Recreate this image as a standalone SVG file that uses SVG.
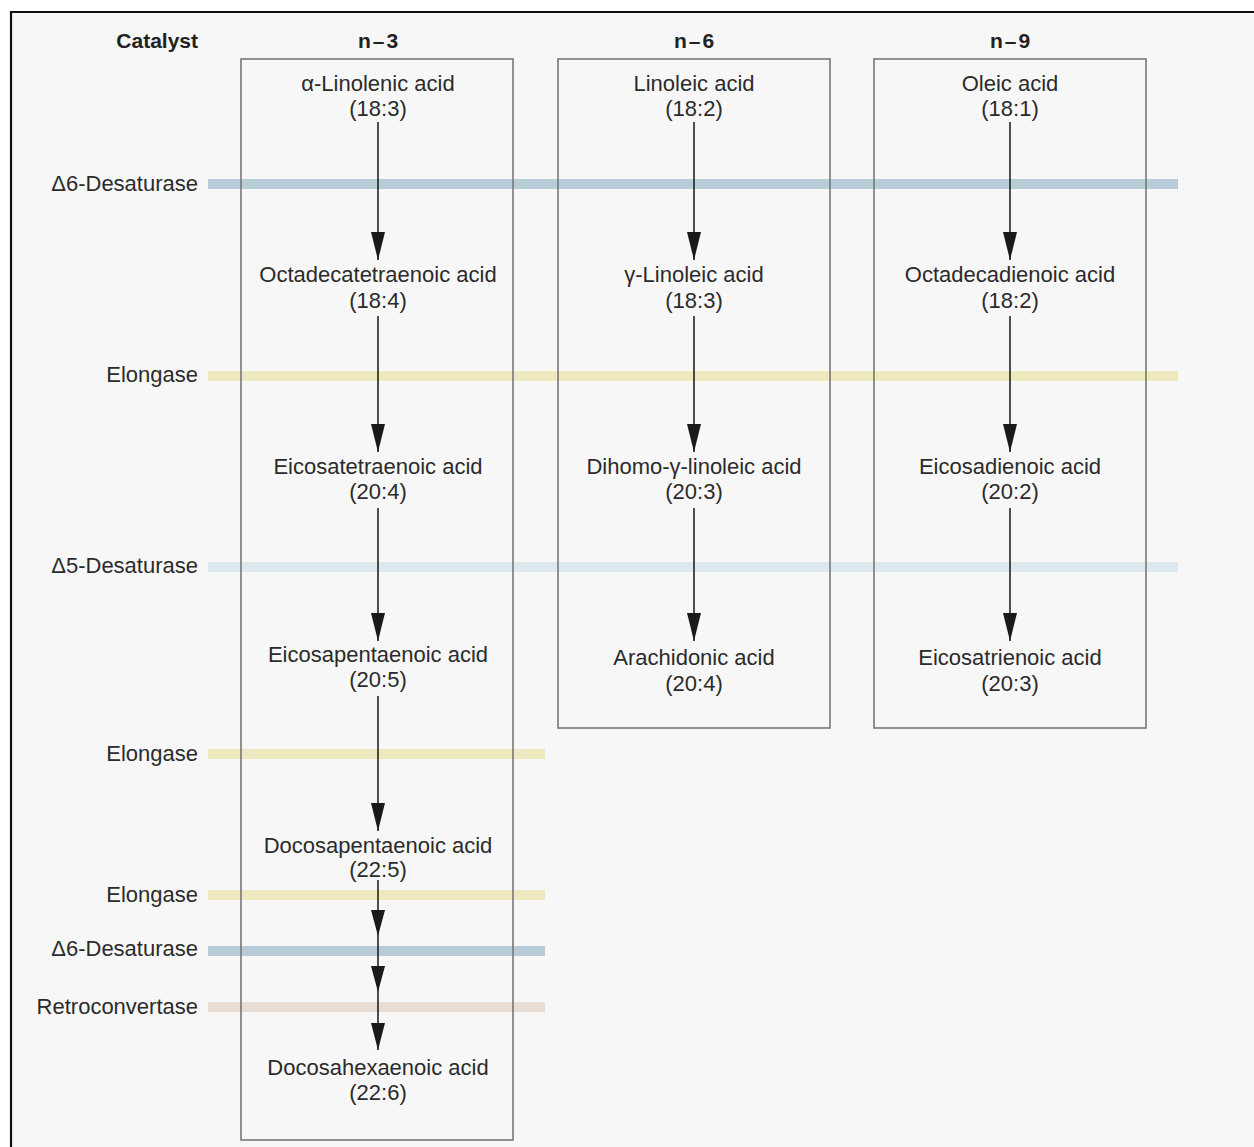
<svg xmlns="http://www.w3.org/2000/svg" width="1254" height="1147" viewBox="0 0 1254 1147">
<defs>
<style>
text{font-family:"Liberation Sans",Arial,sans-serif;font-size:22px;fill:#2b2b2b}
.h{font-weight:bold;font-size:21px;fill:#222}
.hn{letter-spacing:2px}
.n{text-anchor:middle}
.c{text-anchor:end}
.box{fill:none;stroke:#777;stroke-width:1.6}
.d6{fill:#b8ccd7}.el{fill:#ede8bd}.d5{fill:#dde7ee}.rc{fill:#e7ddd4}
.ln{stroke:#222;stroke-width:1.6;fill:none}
</style>
</defs>
<rect x="0" y="0" width="1254" height="1147" fill="#fff"/>
<rect x="12" y="13" width="1242" height="1134" fill="#f7f7f7"/>
<path d="M11,1147 V12 H1254" fill="none" stroke="#111" stroke-width="2.2"/>
<g id="bands">
<rect class="d6" x="208" y="179" width="970" height="10"/>
<rect class="el" x="208" y="371" width="970" height="10"/>
<rect class="d5" x="208" y="562" width="970" height="10"/>
<rect class="el" x="208" y="749" width="337" height="10"/>
<rect class="el" x="208" y="890" width="337" height="10"/>
<rect class="d6" x="208" y="946" width="337" height="10"/>
<rect class="rc" x="208" y="1002" width="337" height="10"/>
</g>
<g id="labels">
<text class="h c" x="198" y="48">Catalyst</text>
<text class="h n hn" x="379" y="48">n–3</text>
<text class="h n hn" x="695" y="48">n–6</text>
<text class="h n hn" x="1011" y="48">n–9</text>
<text class="c" x="198" y="191">Δ6-Desaturase</text>
<text class="c" x="198" y="382">Elongase</text>
<text class="c" x="198" y="573">Δ5-Desaturase</text>
<text class="c" x="198" y="761">Elongase</text>
<text class="c" x="198" y="902">Elongase</text>
<text class="c" x="198" y="956">Δ6-Desaturase</text>
<text class="c" x="198" y="1014">Retroconvertase</text>
</g>
<g id="box-n3"><rect class="box" x="241" y="59" width="272" height="1081"/></g>
<g id="box-n6"><rect class="box" x="558" y="59" width="272" height="669"/></g>
<g id="box-n9"><rect class="box" x="874" y="59" width="272" height="669"/></g>
<g id="connectors">
<path class="ln" d="M378,122 V260"/>
<path class="ln" d="M378,316 V452"/>
<path class="ln" d="M378,508 V641"/>
<path class="ln" d="M378,696 V831"/>
<path class="ln" d="M378,880 V1050"/>
<path class="ln" d="M694,122 V260"/>
<path class="ln" d="M694,316 V452"/>
<path class="ln" d="M694,508 V641"/>
<path class="ln" d="M1010,122 V260"/>
<path class="ln" d="M1010,316 V452"/>
<path class="ln" d="M1010,508 V641"/>
<g fill="#1a1a1a">
<path d="M371,232 H385 L378,260 Z"/>
<path d="M371,424 H385 L378,452 Z"/>
<path d="M371,613 H385 L378,641 Z"/>
<path d="M371,803 H385 L378,831 Z"/>
<path d="M371,910 H385 L378,936 Z"/>
<path d="M371,966 H385 L378,992 Z"/>
<path d="M371,1023 H385 L378,1050 Z"/>
<path d="M687,232 H701 L694,260 Z"/>
<path d="M687,424 H701 L694,452 Z"/>
<path d="M687,613 H701 L694,641 Z"/>
<path d="M1003,232 H1017 L1010,260 Z"/>
<path d="M1003,424 H1017 L1010,452 Z"/>
<path d="M1003,613 H1017 L1010,641 Z"/>
</g>
</g>
<g id="ala"><text class="n" x="378" y="91">α-Linolenic acid</text><text class="n" x="378" y="116">(18:3)</text></g>
<g id="oda"><text class="n" x="378" y="282">Octadecatetraenoic acid</text><text class="n" x="378" y="308">(18:4)</text></g>
<g id="eta"><text class="n" x="378" y="474">Eicosatetraenoic acid</text><text class="n" x="378" y="499">(20:4)</text></g>
<g id="epa"><text class="n" x="378" y="662">Eicosapentaenoic acid</text><text class="n" x="378" y="687">(20:5)</text></g>
<g id="dpa"><text class="n" x="378" y="853">Docosapentaenoic acid</text><text class="n" x="378" y="877">(22:5)</text></g>
<g id="dha"><text class="n" x="378" y="1075">Docosahexaenoic acid</text><text class="n" x="378" y="1100">(22:6)</text></g>
<g id="la"><text class="n" x="694" y="91">Linoleic acid</text><text class="n" x="694" y="116">(18:2)</text></g>
<g id="gla"><text class="n" x="694" y="282">γ-Linoleic acid</text><text class="n" x="694" y="308">(18:3)</text></g>
<g id="dgla"><text class="n" x="694" y="474">Dihomo-γ-linoleic acid</text><text class="n" x="694" y="499">(20:3)</text></g>
<g id="aa"><text class="n" x="694" y="665">Arachidonic acid</text><text class="n" x="694" y="691">(20:4)</text></g>
<g id="oa"><text class="n" x="1010" y="91">Oleic acid</text><text class="n" x="1010" y="116">(18:1)</text></g>
<g id="odda"><text class="n" x="1010" y="282">Octadecadienoic acid</text><text class="n" x="1010" y="308">(18:2)</text></g>
<g id="eda"><text class="n" x="1010" y="474">Eicosadienoic acid</text><text class="n" x="1010" y="499">(20:2)</text></g>
<g id="etra"><text class="n" x="1010" y="665">Eicosatrienoic acid</text><text class="n" x="1010" y="691">(20:3)</text></g>
</svg>
